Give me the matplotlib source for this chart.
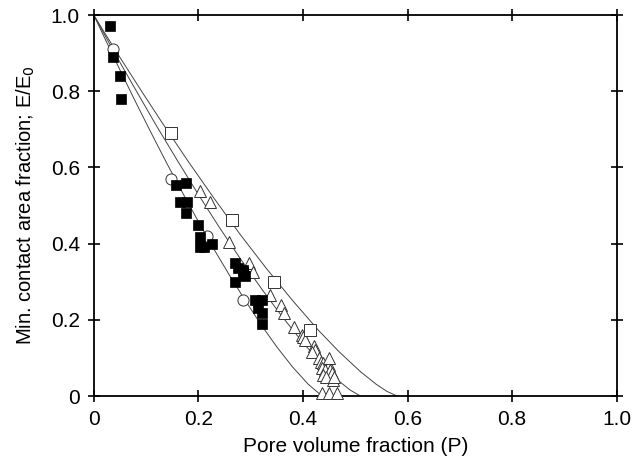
import matplotlib
matplotlib.use("Agg")
import matplotlib.pyplot as plt

plt.rcParams['font.family'] = ['Liberation Sans', 'DejaVu Sans']

# ---- data ----
filled_sq_p = [0.031, 0.036, 0.050, 0.052, 0.158, 0.176, 0.165, 0.178, 0.176,
               0.200, 0.203, 0.203, 0.226, 0.210, 0.270, 0.275, 0.285, 0.290,
               0.270, 0.285, 0.308, 0.321, 0.315, 0.321, 0.321]
filled_sq_e = [0.972, 0.890, 0.840, 0.780, 0.554, 0.560, 0.510, 0.510, 0.480,
               0.449, 0.418, 0.390, 0.400, 0.390, 0.350, 0.335, 0.325, 0.315,
               0.300, 0.330, 0.252, 0.252, 0.230, 0.217, 0.190]

circle_p = [0.037, 0.148, 0.216, 0.286]
circle_e = [0.910, 0.570, 0.420, 0.252]

open_sq_p = [0.147, 0.264, 0.344, 0.413]
open_sq_e = [0.690, 0.462, 0.300, 0.172]

tri_p = [0.204, 0.222, 0.258, 0.297, 0.305, 0.337, 0.359, 0.364, 0.382, 0.398,
         0.400, 0.404, 0.421, 0.423, 0.418, 0.430, 0.434, 0.439, 0.449, 0.436,
         0.442, 0.452, 0.455, 0.438, 0.445, 0.458, 0.436, 0.449, 0.466, 0.450,
         0.460]
tri_e = [0.539, 0.508, 0.405, 0.350, 0.326, 0.265, 0.239, 0.217, 0.182, 0.160,
         0.156, 0.147, 0.130, 0.121, 0.116, 0.099, 0.090, 0.086, 0.081, 0.073,
         0.068, 0.068, 0.060, 0.055, 0.051, 0.042, 0.008, 0.008, 0.008, 0.100,
         0.050]

# model curves, points
curve1_p = [0, 0.02, 0.05, 0.08, 0.11, 0.14, 0.17, 0.20, 0.23, 0.26, 0.29, 0.32,
            0.35, 0.38, 0.41, 0.43, 0.44]
curve1_e = [1.0, 0.942, 0.856, 0.772, 0.690, 0.610, 0.533, 0.458, 0.385, 0.316,
            0.250, 0.187, 0.129, 0.0765, 0.031, 0.0076, 0.0]

curve2_p = [0, 0.02, 0.05, 0.08, 0.12, 0.16, 0.20, 0.24, 0.28, 0.32, 0.36, 0.40,
            0.44, 0.47, 0.49, 0.51]
curve2_e = [1.0, 0.950, 0.876, 0.804, 0.709, 0.618, 0.529, 0.443, 0.361, 0.283,
            0.209, 0.140, 0.079, 0.038, 0.016, 0.0]

curve3_p = [0, 0.02, 0.05, 0.09, 0.13, 0.18, 0.23, 0.28, 0.33, 0.38, 0.43, 0.47,
            0.51, 0.54, 0.56, 0.58]
curve3_e = [1.0, 0.955, 0.889, 0.803, 0.719, 0.617, 0.519, 0.424, 0.335, 0.251,
            0.172, 0.115, 0.064, 0.031, 0.0126, 0.0]

x_ticks = [0, 0.2, 0.4, 0.6, 0.8, 1.0]
x_labels = ["0", "0.2", "0.4", "0.6", "0.8", "1.0"]
y_ticks = [0, 0.2, 0.4, 0.6, 0.8, 1.0]
y_labels = ["0", "0.2", "0.4", "0.6", "0.8", "1.0"]

# ---- figure ----
fig = plt.figure(figsize=(6.44, 4.70), dpi=100)
ax = fig.add_axes([0.1456, 0.1574, 0.812, 0.8106])

line_kw = dict(color='#444444', lw=0.7, zorder=2)
ax.plot(curve1_p, curve1_e, **line_kw)
ax.plot(curve2_p, curve2_e, **line_kw)
ax.plot(curve3_p, curve3_e, **line_kw)

ax.plot(tri_p, tri_e, ls='none', marker='^', ms=8.5, mfc='white', mec='#333333',
        mew=0.7, zorder=3, clip_on=False)
ax.plot(open_sq_p, open_sq_e, ls='none', marker='s', ms=8.5, mfc='white', mec='#333333',
        mew=0.7, zorder=3)
ax.plot(circle_p, circle_e, ls='none', marker='o', ms=8, mfc='white', mec='#333333',
        mew=0.7, zorder=3)
ax.plot(filled_sq_p, filled_sq_e, ls='none', marker='s', ms=7.5, mfc='black', mec='black',
        mew=0.5, zorder=4)

ax.set_xlim(0, 1.0)
ax.set_ylim(0, 1.0)
ax.set_xticks(x_ticks)
ax.set_xticklabels(x_labels)
ax.set_yticks(y_ticks)
ax.set_yticklabels(y_labels)

for s in ax.spines.values():
    s.set_linewidth(1.3)
ax.tick_params(direction='inout', length=8, width=1.2, labelsize=15,
               top=True, right=True, pad=6)

ax.set_xlabel("Pore volume fraction (P)", fontsize=15, labelpad=6)
ax.set_ylabel("Min. contact area fraction; E/E$_0$", fontsize=14.5, labelpad=10)

fig.savefig("out.png", dpi=100)
